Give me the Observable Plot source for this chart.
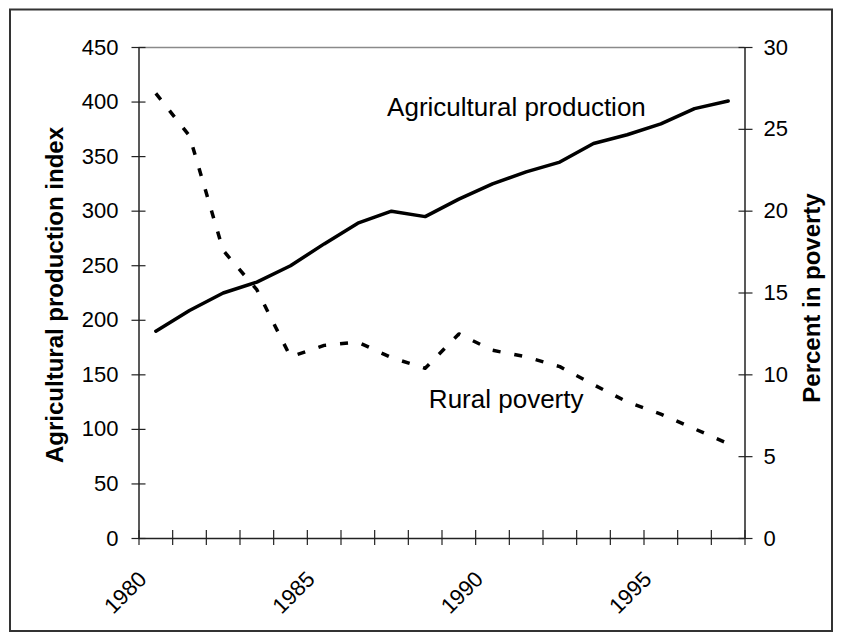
<!DOCTYPE html>
<html><head><meta charset="utf-8">
<script src="https://cdn.jsdelivr.net/npm/d3@7"></script>
<script src="https://cdn.jsdelivr.net/npm/@observablehq/plot@0.6"></script>
<style>html,body{margin:0;padding:0;background:#fff} svg{display:block}</style>
</head><body><div id="chart"></div>
<script>
const years = [1980,1981,1982,1983,1984,1985,1986,1987,1988,1989,1990,1991,1992,1993,1994,1995,1996,1997];
const agriIndex = [190,209,225,235,250,270,289,300,295,311,325,336,345,362,370,380,394,401];
const ruralPoverty = [27.2,24.6,17.6,15.2,11.1,11.8,12.0,11.05,10.4,12.5,11.5,11.1,10.5,9.4,8.35,7.6,6.7,5.8];
const leftTicks = [0,50,100,150,200,250,300,350,400,450];
const rightTicks = [0,5,10,15,20,25,30];
const yearLabels = [1980,1985,1990,1995];
const categoryEdges = d3.range(1979.5, 1998, 1);
const annotations = ["Agricultural production","Rural poverty"];
const annotationYear = [1986.87, 1988.11];
const annotationValue = [387, 119.4];
const leftTitle = "Agricultural production index";
const rightTitle = "Percent in poverty";

const ratio = 450 / 30;
const font = "'Liberation Sans', Arial, Helvetica, sans-serif";
const agriData = years.map((y, i) => ({year: y, value: agriIndex[i]}));
const povData = years.map((y, i) => ({year: y, value: ruralPoverty[i] * ratio}));
const annoData = annotations.map((t, i) => ({text: t, year: annotationYear[i], value: annotationValue[i]}));

const chart = Plot.plot({
  width: 843,
  height: 639,
  marginLeft: 138.5,
  marginRight: 98.5,
  marginTop: 47,
  marginBottom: 101,
  style: {fontFamily: font, background: "white", color: "black", overflow: "visible"},
  x: {domain: [1979.5, 1997.5], axis: null},
  y: {domain: [0, 450], axis: null},
  marks: [
    Plot.ruleY([450], {stroke: "#8a8a8a", strokeWidth: 1.5}),
    Plot.ruleY([0], {stroke: "#222", strokeWidth: 1.5}),
    Plot.ruleX([1979.5, 1997.5], {stroke: "#222", strokeWidth: 1.5}),
    // left axis: crossing ticks + labels
    Plot.axisY(leftTicks, {anchor: "left", tickSize: 14, dx: 7, tickFormat: () => "", label: null, stroke: "#222", strokeWidth: 1.2}),
    Plot.axisY(leftTicks, {anchor: "left", tickSize: 0, tickPadding: 20.5, fontSize: 22, label: null, fill: "black"}),
    // right axis
    Plot.axisY(rightTicks.map(d => d * ratio), {anchor: "right", tickSize: 14, dx: -7, tickFormat: () => "", label: null, stroke: "#222", strokeWidth: 1.2}),
    Plot.axisY(rightTicks.map(d => d * ratio), {anchor: "right", tickSize: 0, tickPadding: 18.5, fontSize: 22, label: null, fill: "black", tickFormat: d => String(Math.round(d / ratio))}),
    // bottom category ticks
    Plot.axisX(categoryEdges, {anchor: "bottom", tickSize: 15, dy: -8, tickFormat: () => "", label: null, stroke: "#222", strokeWidth: 1.2}),
    Plot.text(yearLabels, {x: d => d, text: d => String(d), frameAnchor: "bottom", dx: -8, dy: 42, rotate: -45, textAnchor: "end", lineAnchor: "bottom", fontSize: 22, fill: "black"}),
    // axis titles
    Plot.text([leftTitle], {frameAnchor: "left", dx: -83.5, dy: 2, rotate: -90, textAnchor: "middle", lineAnchor: "middle", fontSize: 24, fontWeight: "bold", fill: "black"}),
    Plot.text([rightTitle], {frameAnchor: "right", dx: 67.5, dy: 5, rotate: -90, textAnchor: "middle", lineAnchor: "middle", fontSize: 24, fontWeight: "bold", fill: "black"}),
    // series
    Plot.line(povData, {x: "year", y: "value", stroke: "black", strokeWidth: 3.5, strokeDasharray: "8,14", strokeLinecap: "butt"}),
    Plot.line(agriData, {x: "year", y: "value", stroke: "black", strokeWidth: 3.5}),
    // annotations
    Plot.text(annoData, {x: "year", y: "value", text: "text", textAnchor: "start", lineAnchor: "bottom", fontSize: 26, fill: "black"})
  ]
});

d3.select(chart).append("rect")
  .attr("x", 10).attr("y", 9.5).attr("width", 822).attr("height", 621.5)
  .attr("fill", "none").attr("stroke", "#333").attr("stroke-width", 2);

document.getElementById("chart").appendChild(chart);
</script>
</body></html>
